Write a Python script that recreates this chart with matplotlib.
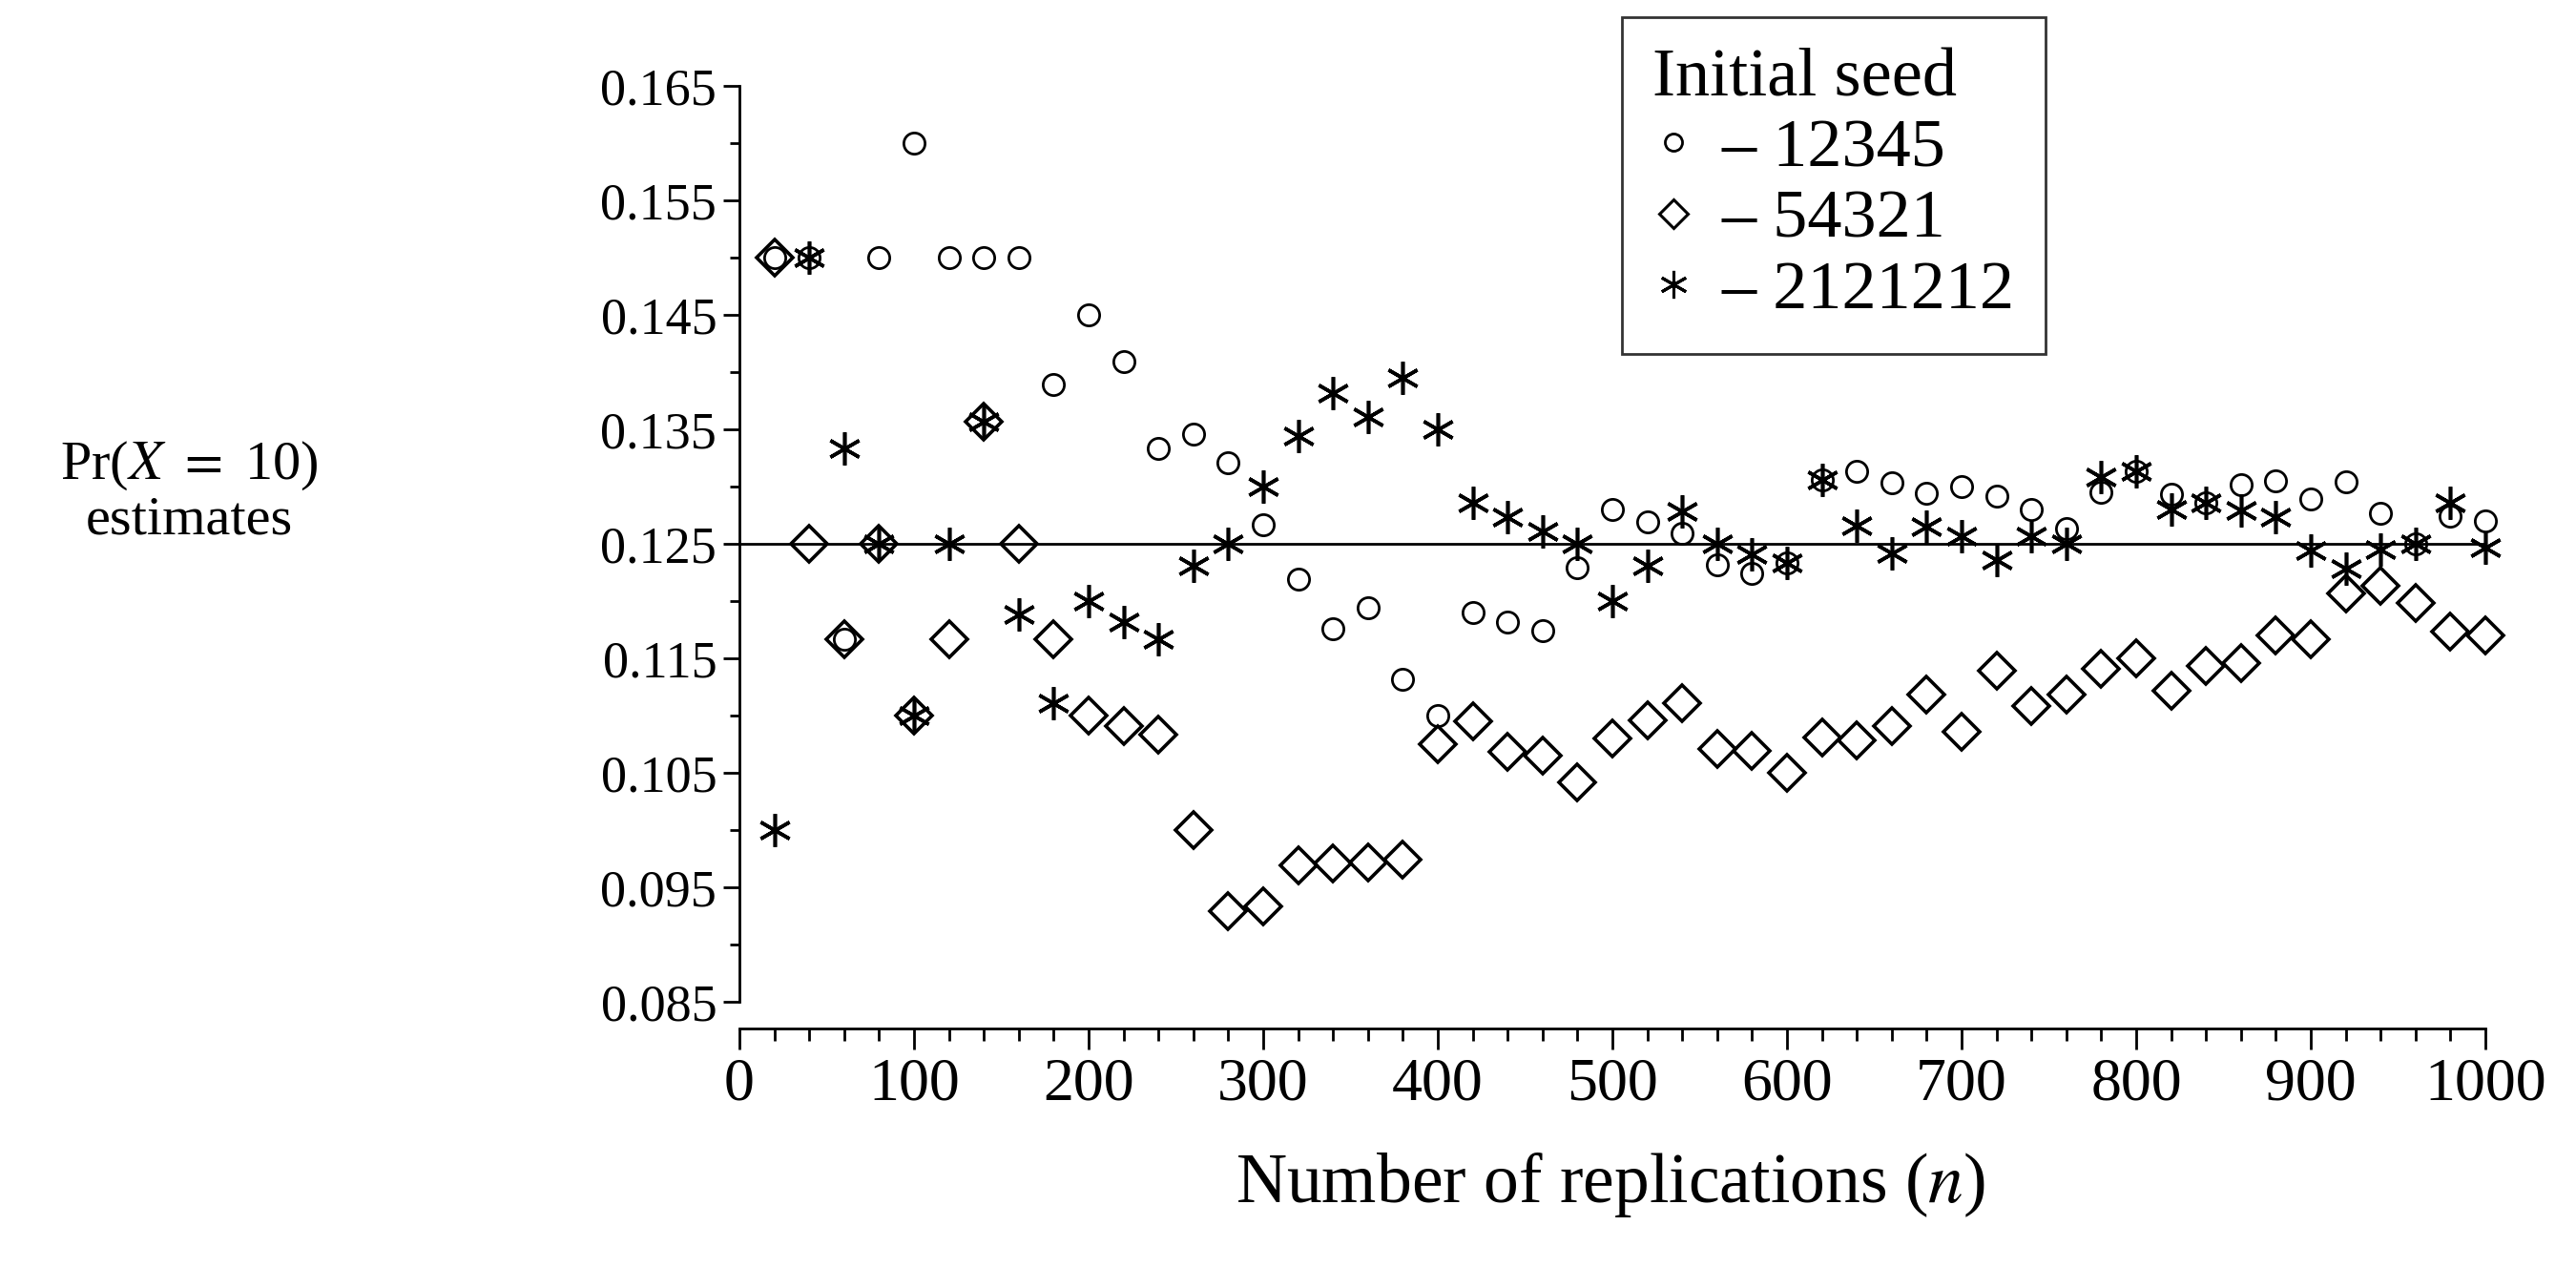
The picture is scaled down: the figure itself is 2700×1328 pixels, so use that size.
import numpy as np
import matplotlib
matplotlib.use("Agg")
import matplotlib.pyplot as plt
from matplotlib.lines import Line2D
from matplotlib.ticker import MultipleLocator

plt.rcParams['font.family'] = ['Liberation Serif', 'DejaVu Serif']
plt.rcParams['mathtext.fontset'] = 'stix'

# number of replications
n = list(range(20, 1001, 20))

# Pr(X = 10) estimates, one list per initial seed
seed_12345 = [0.150, 0.150, 0.1167, 0.150, 0.160, 0.150, 0.150, 0.150, 0.1389, 0.145,
              0.1409, 0.1333, 0.1346, 0.1321, 0.1267, 0.1219, 0.1176, 0.1194, 0.1132, 0.110,
              0.119, 0.1182, 0.1174, 0.1229, 0.128, 0.1269, 0.1259, 0.1232, 0.1224, 0.1233,
              0.1306, 0.1313, 0.1303, 0.1294, 0.130, 0.1292, 0.128, 0.1263, 0.1295, 0.1313,
              0.1293, 0.1286, 0.1302, 0.1305, 0.1289, 0.1304, 0.1277, 0.125, 0.1274, 0.127]
seed_54321 = [0.150, 0.125, 0.1167, 0.125, 0.110, 0.1167, 0.1357, 0.125, 0.1167, 0.110,
              0.1091, 0.1083, 0.100, 0.0929, 0.0933, 0.0969, 0.0971, 0.0972, 0.0974, 0.1075,
              0.1095, 0.1068, 0.1065, 0.1042, 0.108, 0.1096, 0.1111, 0.1071, 0.1069, 0.105,
              0.1081, 0.1078, 0.1091, 0.1118, 0.1086, 0.1139, 0.1108, 0.1118, 0.1141, 0.115,
              0.1122, 0.1143, 0.1146, 0.117, 0.1167, 0.1207, 0.1213, 0.1198, 0.1173, 0.117]
seed_2121212 = [0.100, 0.150, 0.1333, 0.125, 0.110, 0.125, 0.1357, 0.1188, 0.1111, 0.120,
                0.1182, 0.1167, 0.1231, 0.125, 0.130, 0.1344, 0.1382, 0.1361, 0.1395, 0.135,
                0.1286, 0.1273, 0.1261, 0.125, 0.120, 0.1231, 0.1278, 0.125, 0.1241, 0.1233,
                0.1306, 0.1266, 0.1242, 0.1265, 0.1257, 0.1236, 0.1257, 0.125, 0.1308, 0.1313,
                0.128, 0.1286, 0.1279, 0.1273, 0.1244, 0.1228, 0.1245, 0.125, 0.1286, 0.1247]
true_value = 0.125

y_ticks = [0.085, 0.095, 0.105, 0.115, 0.125, 0.135, 0.145, 0.155, 0.165]
x_ticks = [0, 100, 200, 300, 400, 500, 600, 700, 800, 900, 1000]

asterisk = (6, 2, 0)

fig = plt.figure(figsize=(27, 13.28), dpi=100)
ax = fig.add_axes([0.287, 0.2093, 0.6778, 0.7229])

ax.axhline(true_value, color='black', lw=2.0, zorder=1)

ax.plot(n, seed_12345, ls='none', marker='o', ms=16, mfc='none', mec='black', mew=2.0,
        clip_on=False, zorder=3)
ax.plot(n, seed_54321, ls='none', marker='D', ms=19, mfc='none', mec='black', mew=2.6,
        clip_on=False, zorder=3)
ax.plot(n, seed_2121212, ls='none', marker=asterisk, ms=25, mfc='none', mec='black', mew=2.6,
        clip_on=False, zorder=3)

ax.set_xlim(0, 1000)
ax.set_ylim(0.085, 0.165)

for side in ['top', 'right']:
    ax.spines[side].set_visible(False)
ax.spines['left'].set_linewidth(2.0)
ax.spines['bottom'].set_linewidth(2.0)
ax.spines['left'].set_bounds(0.085, 0.165)
ax.spines['bottom'].set_position(('outward', 20))

ax.set_yticks(y_ticks)
ax.set_yticklabels(['%.3f' % v for v in y_ticks])
ax.yaxis.set_minor_locator(MultipleLocator(0.01))
ax.set_xticks(x_ticks)
ax.set_xticklabels([str(v) for v in x_ticks])
ax.xaxis.set_minor_locator(MultipleLocator(20))

ax.tick_params(axis='y', which='major', direction='out', length=12, width=2.0, labelsize=39, pad=5)
ax.tick_params(axis='y', which='minor', direction='out', length=7, width=2.0)
ax.tick_params(axis='x', which='major', direction='out', length=16, width=2.0, labelsize=46, pad=6)
ax.tick_params(axis='x', which='minor', direction='out', length=9, width=2.0)

fig.text(1688 / 2700, 1 - 1242 / 1328, 'Number of replications ($n$)', fontsize=53,
         ha='center', va='center')
fig.text(198 / 2700, 1 - 516 / 1328, r'Pr($X$ $=$ 10)' + '\nestimates', fontsize=42,
         ha='center', va='center', linespacing=1.1)

handles = [
    Line2D([], [], ls='none', marker='o', ms=13, mfc='none', mec='black', mew=2.0),
    Line2D([], [], ls='none', marker='D', ms=15, mfc='none', mec='black', mew=2.2),
    Line2D([], [], ls='none', marker=asterisk, ms=21, mfc='none', mec='black', mew=2.2),
]
labels = ['\u2013 12345', '\u2013 54321', '\u2013 2121212']
leg = ax.legend(handles, labels, title='Initial seed', loc='upper left',
                bbox_to_anchor=(1700 / 2700, 1 - 18 / 1328), bbox_transform=fig.transFigure,
                fontsize=52, title_fontsize=52, frameon=True, fancybox=False,
                handlelength=0.6, handletextpad=0.4, labelspacing=0.12,
                borderpad=0.45, borderaxespad=0, alignment='left')
leg.get_frame().set_edgecolor('black')
leg.get_frame().set_linewidth(2.0)

fig.savefig('out.png', dpi=100)
